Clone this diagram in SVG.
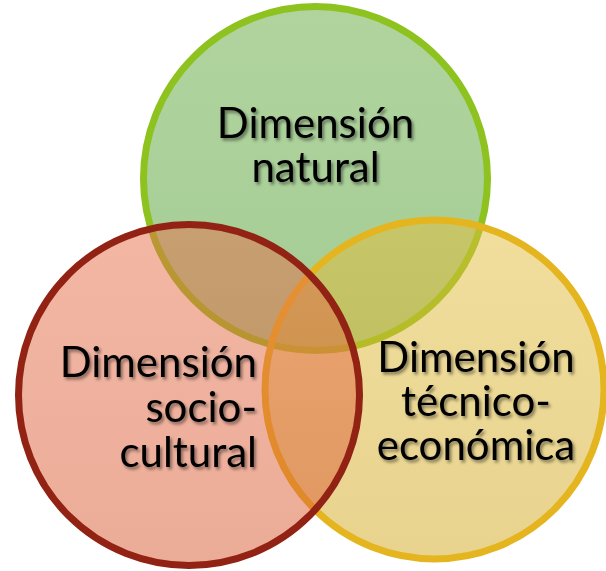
<svg xmlns="http://www.w3.org/2000/svg" width="606" height="571" viewBox="0 0 606 571">
<defs>
<filter id="sh" x="-10%" y="-10%" width="130%" height="130%">
<feDropShadow dx="2" dy="2.5" stdDeviation="1.5" flood-color="#000" flood-opacity="0.45"/>
</filter>
<linearGradient id="gG" x1="0" y1="0" x2="0" y2="1"><stop offset="0" stop-color="#64a940"/><stop offset="1" stop-color="#4a9a2a"/></linearGradient>
<linearGradient id="gY" x1="0" y1="0" x2="0" y2="1"><stop offset="0" stop-color="#e4be3c"/><stop offset="1" stop-color="#d0a81e"/></linearGradient>
<linearGradient id="gR" x1="0" y1="0" x2="0" y2="1"><stop offset="0" stop-color="#e66f4a"/><stop offset="1" stop-color="#d85a30"/></linearGradient>
</defs>
<style>
.c{fill-opacity:0.5;stroke-width:7}
.t{font-family:Lato,"Open Sans","DejaVu Sans",sans-serif;font-size:42px;fill:#000;filter:url(#sh)}
</style>
<rect width="606" height="571" fill="#fff"/>
<g id="natural">
<circle class="c" cx="315.5" cy="178.5" r="172" fill="url(#gG)" stroke="#8dc21f"/>
<text class="t" text-anchor="middle"><tspan x="315.5" y="138">Dimensión</tspan><tspan x="315.5" y="182">natural</tspan></text>
</g>
<g id="tecnico">
<circle class="c" cx="434.5" cy="389.5" r="169.5" fill="url(#gY)" stroke="#e5b520"/>
<text class="t" text-anchor="middle"><tspan x="476" y="372">Dimensión</tspan><tspan x="476" y="416">técnico-</tspan><tspan x="476" y="460">económica</tspan></text>
</g>
<g id="socio">
<circle class="c" cx="189" cy="395" r="170.5" fill="url(#gR)" stroke="#922214"/>
<text class="t" text-anchor="end"><tspan x="257" y="377">Dimensión</tspan><tspan x="257" y="422">socio-</tspan><tspan x="257" y="467">cultural</tspan></text>
</g>
<g id="connectors"/>
</svg>
